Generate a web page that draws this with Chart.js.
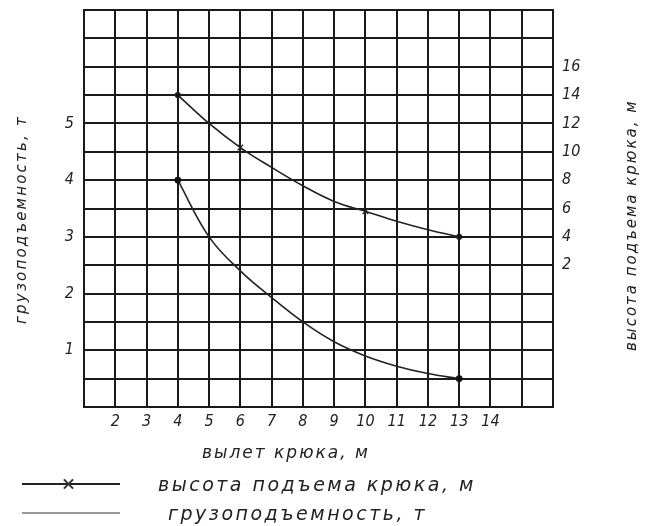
<!DOCTYPE html>
<html>
<head>
<meta charset="utf-8">
<script src="https://cdn.jsdelivr.net/npm/chart.js@4"></script>
<style>
  body { margin: 0; background: #fff; }
  #wrap { position: relative; width: 645px; height: 526px; }
  #myChart { position: absolute; left: 0; top: 0; }
  .t { position: absolute; font-family: 'DejaVu Sans', sans-serif; font-style: italic; color: #222; white-space: nowrap; line-height: 1; }
  .rot { transform-origin: 0 0; transform: rotate(-90deg); }
  .ln { position: absolute; height: 2px; }
  .xm { position: absolute; width: 13px; height: 2px; background: #333; }
</style>
</head>
<body>
<div id="wrap">
  <canvas id="myChart" width="645" height="526"></canvas>
  <div class="t rot" id="ttlLeft" style="font-size:15px; letter-spacing:2.2px; left:14px; top:324px;">грузоподъемность, т</div>
  <div class="t rot" id="ttlRight" style="font-size:15px; letter-spacing:2px; left:624px; top:351px;">высота подъема крюка, м</div>
  <div class="t" id="ttlBottom" style="font-size:17px; letter-spacing:2px; left:202px; top:444px;">вылет крюка, м</div>

  <div class="ln" style="left:22px; top:483px; width:98px; background:#222;"></div>
  <div class="xm" style="left:62px; top:483px; transform:rotate(45deg);"></div>
  <div class="xm" style="left:62px; top:483px; transform:rotate(-45deg);"></div>
  <div class="t" style="font-size:19px; letter-spacing:2.5px; left:158px; top:475px;">высота подъема крюка, м</div>

  <div class="ln" style="left:22px; top:512px; width:98px; background:#999;"></div>
  <div class="t" style="font-size:19px; letter-spacing:2.5px; left:168px; top:504px;">грузоподъемность, т</div>
</div>
<script>
// вылет крюка, м
const vylet = [4, 5, 6, 7, 8, 9, 10, 11, 12, 13];
// грузоподъемность, т (левая ось)
const gruz = [4, 3, 2.4, 1.93, 1.5, 1.15, 0.9, 0.72, 0.59, 0.5];
// высота подъема крюка, м (правая ось)
const vysota = [14, 12, 10.3, 8.9, 7.6, 6.5, 5.8, 5.1, 4.5, 4];

const xTicks = [2, 3, 4, 5, 6, 7, 8, 9, 10, 11, 12, 13, 14];
const leftTicks = [1, 2, 3, 4, 5];
const rightTicks = [2, 4, 6, 8, 10, 12, 14, 16];

const tickFont = { family: "'Liberation Sans Narrow', 'DejaVu Sans Condensed', sans-serif", size: 16, style: 'italic' };
const gridBlack = { color: '#1a1a1a', lineWidth: 2, drawTicks: false };

const ptsGruz = vylet.map((x, i) => ({ x: x, y: gruz[i] }));
const ptsVys = vylet.map((x, i) => ({ x: x, y: vysota[i] }));

const last = vylet.length - 1;

const data = {
  datasets: [{
    label: 'высота подъема крюка, м',
    data: ptsVys,
    yAxisID: 'y2',
    borderColor: '#222',
    borderWidth: 1.6,
    tension: 0.4,
    pointStyle: vylet.map((x, i) => (x == 6 || x == 10) ? 'crossRot' : 'circle'),
    pointRadius: vylet.map((x, i) => (i == 0 || i == last) ? 2.5 : (x == 6 || x == 10) ? 4 : 0),
    pointBackgroundColor: '#111',
    pointBorderColor: '#222',
    pointBorderWidth: 1.2
  }, {
    label: 'грузоподъемность, т',
    data: ptsGruz,
    yAxisID: 'y',
    borderColor: '#222',
    borderWidth: 1.6,
    tension: 0.4,
    pointRadius: vylet.map((x, i) => (i == 0 || i == last) ? 2.5 : 0),
    pointBackgroundColor: '#111',
    pointBorderColor: '#111'
  }]
};

// убираем лишний отступ сверху/снизу у вертикальных осей
function noPad(s, w) {
  s.width = w;
  s.paddingTop = 0;
  s.paddingBottom = 0;
}

const config = {
  type: 'line',
  data: data,
  options: {
    responsive: false,
    animation: false,
    layout: { padding: { top: 10, bottom: 0, left: 0, right: 0 } },
    plugins: { legend: { display: false }, tooltip: { enabled: false } },
    scales: {
      x: {
        type: 'linear', min: 1, max: 16,
        grid: gridBlack,
        border: { color: '#1a1a1a', width: 2 },
        ticks: {
          stepSize: 1, padding: 5, color: '#222', font: tickFont, maxRotation: 0, autoSkip: false,
          callback: v => xTicks.includes(v) ? String(v) : ''
        },
        afterFit: s => { s.height = 119; }
      },
      y: {
        position: 'left', min: 0, max: 7,
        grid: gridBlack,
        border: { color: '#1a1a1a', width: 2 },
        ticks: {
          stepSize: 0.5, padding: 10, color: '#222', font: tickFont, autoSkip: false,
          callback: v => leftTicks.includes(v) ? String(v) : ''
        },
        afterFit: s => noPad(s, 84)
      },
      y2: {
        position: 'right', min: -8, max: 20,
        grid: { display: false, drawTicks: false },
        border: { color: '#1a1a1a', width: 2 },
        ticks: {
          stepSize: 2, padding: 9, color: '#222', font: tickFont, autoSkip: false,
          callback: v => rightTicks.includes(v) ? String(v) : ''
        },
        afterFit: s => noPad(s, 92)
      }
    }
  }
};

const myChart = new Chart(document.getElementById('myChart'), config);
</script>
</body>
</html>
